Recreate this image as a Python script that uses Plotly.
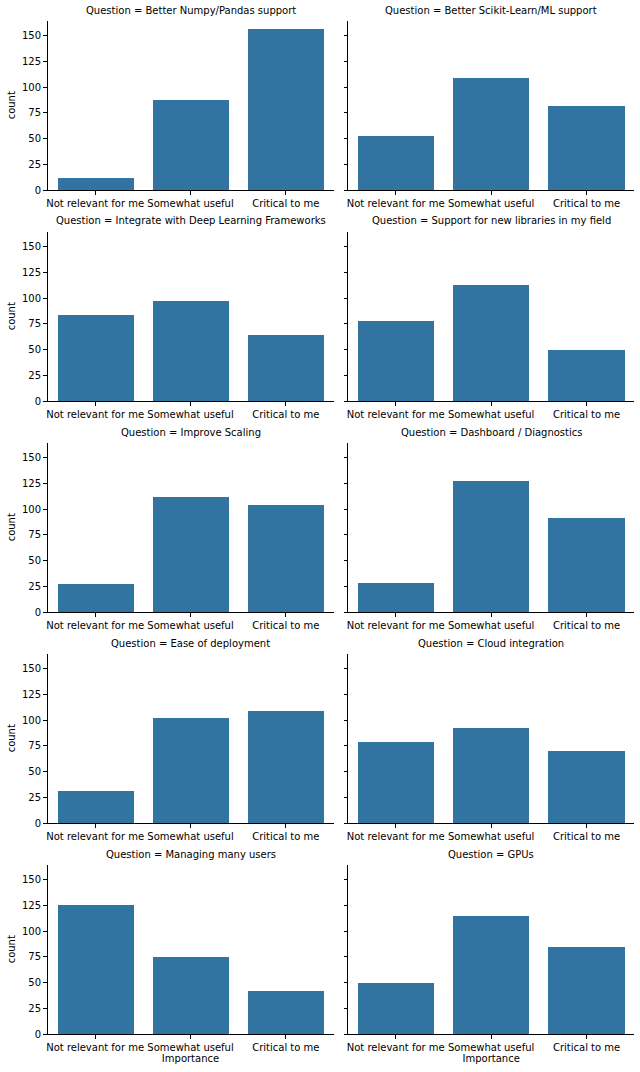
import plotly.graph_objects as go
from plotly.subplots import make_subplots

# survey counts per question
questions = [
    "Better Numpy/Pandas support",
    "Better Scikit-Learn/ML support",
    "Integrate with Deep Learning Frameworks",
    "Support for new libraries in my field",
    "Improve Scaling",
    "Dashboard / Diagnostics",
    "Ease of deployment",
    "Cloud integration",
    "Managing many users",
    "GPUs",
]
importance = ["Not relevant for me", "Somewhat useful", "Critical to me"]
not_relevant = [12, 53, 84, 78, 28, 29, 32, 79, 126, 50]
somewhat_useful = [88, 109, 98, 113, 112, 128, 103, 93, 75, 115]
critical = [157, 82, 65, 50, 105, 92, 109, 71, 42, 85]

W, H = 640, 1072
col_x = [(47.5, 333.5), (348.0, 634.3)]
row_top = 20.5
row_h = 169.5
row_step = 211.0
ymax = max(not_relevant + somewhat_useful + critical) * 1.05
font = "DejaVu Sans"

fig = make_subplots(rows=5, cols=2)

for i, q in enumerate(questions):
    r, c = i // 2, i % 2
    vals = [not_relevant[i], somewhat_useful[i], critical[i]]
    fig.add_trace(go.Bar(x=importance, y=vals, width=0.8,
                         marker=dict(color="#3274a1", line=dict(width=0)),
                         showlegend=False),
                  row=r + 1, col=c + 1)

    top = row_top + r * row_step
    bot = top + row_h
    x0, x1 = col_x[c]
    xd = [x0 / W, x1 / W]
    yd = [1 - bot / H, 1 - top / H]
    n = i + 1
    xa = "xaxis" if n == 1 else "xaxis%d" % n
    ya = "yaxis" if n == 1 else "yaxis%d" % n

    fig.layout[xa].update(domain=xd, type="category", range=[-0.5, 2.5],
                          automargin=False,
                          showline=True, linecolor="black", linewidth=1,
                          ticks="outside", ticklen=3.5, tickcolor="black",
                          showgrid=False, zeroline=False,
                          tickfont=dict(family=font, size=10, color="black"))
    fig.layout[ya].update(domain=yd, range=[0, ymax],
                          automargin=False,
                          tickvals=[0, 25, 50, 75, 100, 125, 150],
                          showline=True, linecolor="black", linewidth=1,
                          ticks="outside", ticklen=3.5, tickcolor="black",
                          showgrid=False, zeroline=False,
                          showticklabels=(c == 0),
                          tickfont=dict(family=font, size=10, color="black"))
    if c == 0:
        fig.layout[ya].title = dict(text="count", standoff=4,
                                    font=dict(family=font, size=10, color="black"))
    if r == 4:
        fig.layout[xa].title = dict(text="Importance", standoff=2,
                                    font=dict(family=font, size=10, color="black"))

    fig.add_annotation(text="Question = " + q, xref="paper", yref="paper",
                       x=(xd[0] + xd[1]) / 2, y=yd[1], xanchor="center",
                       yanchor="bottom", yshift=3, showarrow=False,
                       font=dict(family=font, size=10, color="black"))

fig.update_layout(width=W, height=H, margin=dict(l=0, r=0, t=0, b=0),
                  plot_bgcolor="white", paper_bgcolor="white",
                  font=dict(family=font, size=10, color="black"),
                  bargap=0)

# drop the browser's default body margin so the figure fills the window
fig.write_html("out.html", config={"displayModeBar": False},
               post_script="document.body.style.margin = '0px';")
